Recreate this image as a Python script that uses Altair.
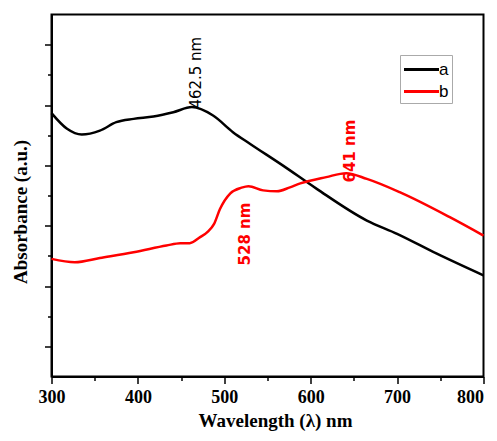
import altair as alt
import pandas as pd

# ---- data ----
wl_a = [300, 318, 335, 356, 375, 395, 418, 441, 462.5, 487, 510, 530, 568, 607, 665, 700, 746, 800]
abs_a = [8.73, 8.21, 8.02, 8.15, 8.43, 8.54, 8.62, 8.76, 8.93, 8.65, 8.10, 7.71, 6.99, 6.22, 5.17, 4.73, 4.07, 3.35]
wl_b = [300, 327, 356, 395, 433, 449, 460, 472, 481, 488, 495, 507, 520, 528, 545, 561, 576, 588, 618, 641, 665, 703, 761, 800]
abs_b = [3.90, 3.79, 3.93, 4.12, 4.34, 4.42, 4.42, 4.62, 4.80, 5.05, 5.55, 6.07, 6.26, 6.31, 6.17, 6.14, 6.27, 6.40, 6.61, 6.74, 6.55, 6.11, 5.28, 4.67]
series_names = ["a", "b"]
series_colors = ["black", "red"]

ann_black_text = ["462.5 nm"]
ann_black_x = [467]
ann_black_y = [8.88]
ann_red_text = ["641 nm", "528 nm"]
ann_red_x = [646, 524]
ann_red_y = [6.43, 3.68]

x_major = [300, 400, 500, 600, 700, 800]
x_minor = [350, 450, 550, 650, 750]
y_major = [1, 3, 5, 7, 9, 11]
y_minor = [2, 4, 6, 8, 10]

df = pd.concat([
    pd.DataFrame({"wl": wl_a, "abs": abs_a, "series": series_names[0]}),
    pd.DataFrame({"wl": wl_b, "abs": abs_b, "series": series_names[1]}),
], ignore_index=True)
ann_black = pd.DataFrame({"wl": ann_black_x, "abs": ann_black_y, "t": ann_black_text})
ann_red = pd.DataFrame({"wl": ann_red_x, "abs": ann_red_y, "t": ann_red_text})

xs = alt.Scale(domain=[300, 800], nice=False, zero=False)
ys = alt.Scale(domain=[0, 12], nice=False, zero=False)

serif = "Liberation Serif"

x_axis_major = alt.Axis(
    orient="bottom", values=x_major, tickSize=7, tickWidth=1.5, tickColor="black",
    domainColor="black", domainWidth=2, grid=False,
    labelFont=serif, labelFontWeight="bold", labelFontSize=18, labelColor="black",
    labelPadding=5, labelFlush=False,
    labelAlign=alt.condition("datum.value == 800", alt.value("right"), alt.value("center")),
    title="Wavelength (λ) nm", titleFont=serif, titleFontWeight="bold", titleFontSize=19,
    titleColor="black", titleX=223.5, titleY=50, titleAlign="center", titleBaseline="alphabetic",
)
y_axis_major = alt.Axis(
    orient="left", values=y_major, tickSize=7, tickWidth=1.5, tickColor="black",
    domainColor="black", domainWidth=2, grid=False, labels=False,
    title="Absorbance (a.u.)", titleFont=serif, titleFontWeight="bold", titleFontSize=19,
    titleColor="black", titleX=-31.5, titleY=197, titleAngle=270,
    titleAlign="center", titleBaseline="middle",
)
x_axis_minor = alt.Axis(orient="bottom", values=x_minor, tickSize=4, tickWidth=1.5,
                        tickColor="black", domain=False, grid=False, labels=False, title=None)
y_axis_minor = alt.Axis(orient="left", values=y_minor, tickSize=4, tickWidth=1.5,
                        tickColor="black", domain=False, grid=False, labels=False, title=None)

lines = alt.Chart(df).mark_line(strokeWidth=2.5, interpolate="monotone").encode(
    x=alt.X("wl:Q", scale=xs, axis=x_axis_major),
    y=alt.Y("abs:Q", scale=ys, axis=y_axis_major),
    color=alt.Color("series:N", scale=alt.Scale(domain=series_names, range=series_colors),
                    legend=alt.Legend(
                        orient="none", legendX=348.5, legendY=40.5, title=None,
                        symbolType="M-1.75,0H1.75", symbolSize=400, symbolStrokeWidth=3,
                        symbolOffset=7,
                        labelFont="Liberation Sans", labelFontSize=17, labelColor="black",
                        labelOffset=6, strokeColor="#aaaaaa", fillColor="white",
                        padding=3, rowPadding=2,
                    )),
    detail="series:N",
)

minor = alt.Chart(df).mark_point(opacity=0).encode(
    x=alt.X("wl:Q", scale=xs, axis=x_axis_minor),
    y=alt.Y("abs:Q", scale=ys, axis=y_axis_minor),
)

txt_black = alt.Chart(ann_black).mark_text(
    angle=270, align="left", baseline="middle", font="DejaVu Sans", fontSize=15, color="black"
).encode(x=alt.X("wl:Q", scale=xs, axis=None), y=alt.Y("abs:Q", scale=ys, axis=None), text="t:N")

txt_red = alt.Chart(ann_red).mark_text(
    angle=270, align="left", baseline="middle", font="DejaVu Sans", fontSize=15,
    fontWeight="bold", color="red"
).encode(x=alt.X("wl:Q", scale=xs, axis=None), y=alt.Y("abs:Q", scale=ys, axis=None), text="t:N")

chart = alt.layer(lines, minor, txt_black, txt_red).resolve_axis(
    x="independent", y="independent"
).properties(
    width=432, height=362,
    autosize=alt.AutoSizeParams(type="none"),
    padding={"left": 43.5, "top": 6.5, "right": 5, "bottom": 55},
).configure_view(stroke="black", strokeWidth=2)

chart.save("out.html", embed_options={"renderer": "svg", "actions": False})
